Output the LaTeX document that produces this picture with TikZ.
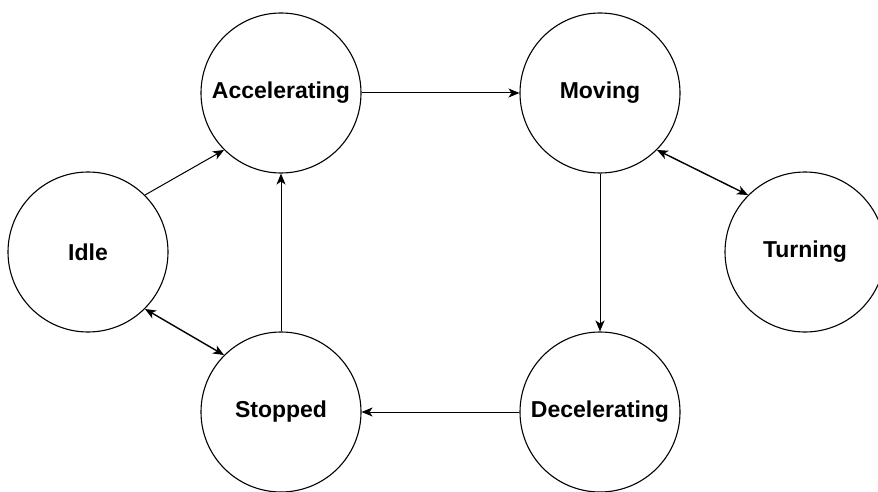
\documentclass[tikz,border=0pt]{standalone}
\usepackage{fontspec}
\setmainfont{Liberation Sans}
\usetikzlibrary{arrows.meta}
\begin{document}
\begin{tikzpicture}[x=1pt,y=-1pt,
  state/.style={circle,draw,line width=1.1pt,minimum size=160pt,inner sep=0pt,font=\bfseries\fontsize{23}{26}\selectfont},
  edge/.style={line width=1pt,-{Stealth[length=11pt,width=9pt,inset=3pt]}},
  bidir/.style={line width=1.4pt,{Stealth[length=11pt,width=9pt,inset=3pt]}-{Stealth[length=11pt,width=9pt,inset=3pt]}}]
\useasboundingbox (0,0) rectangle (878,492);
\node[state] (acc) at (281,93) {Accelerating};
\node[state] (mov) at (600,93) {Moving};
\node[state] (idle) at (88,252) {Idle};
\node[state] (turn) at (805,252) {Turning};
\node[state] (stop) at (281,412) {Stopped};
\node[state] (dec) at (600,412) {Decelerating};
\draw[edge] (idle.45) -- (acc.225);
\draw[edge] (acc.east) -- (mov.west);
\draw[bidir] (mov.-45) -- (turn.135);
\draw[bidir] (idle.-45) -- (stop.135);
\draw[edge] (stop.north) -- (acc.south);
\draw[edge] (mov.south) -- (dec.north);
\draw[edge] (dec.west) -- (stop.east);
\end{tikzpicture}
\end{document}
